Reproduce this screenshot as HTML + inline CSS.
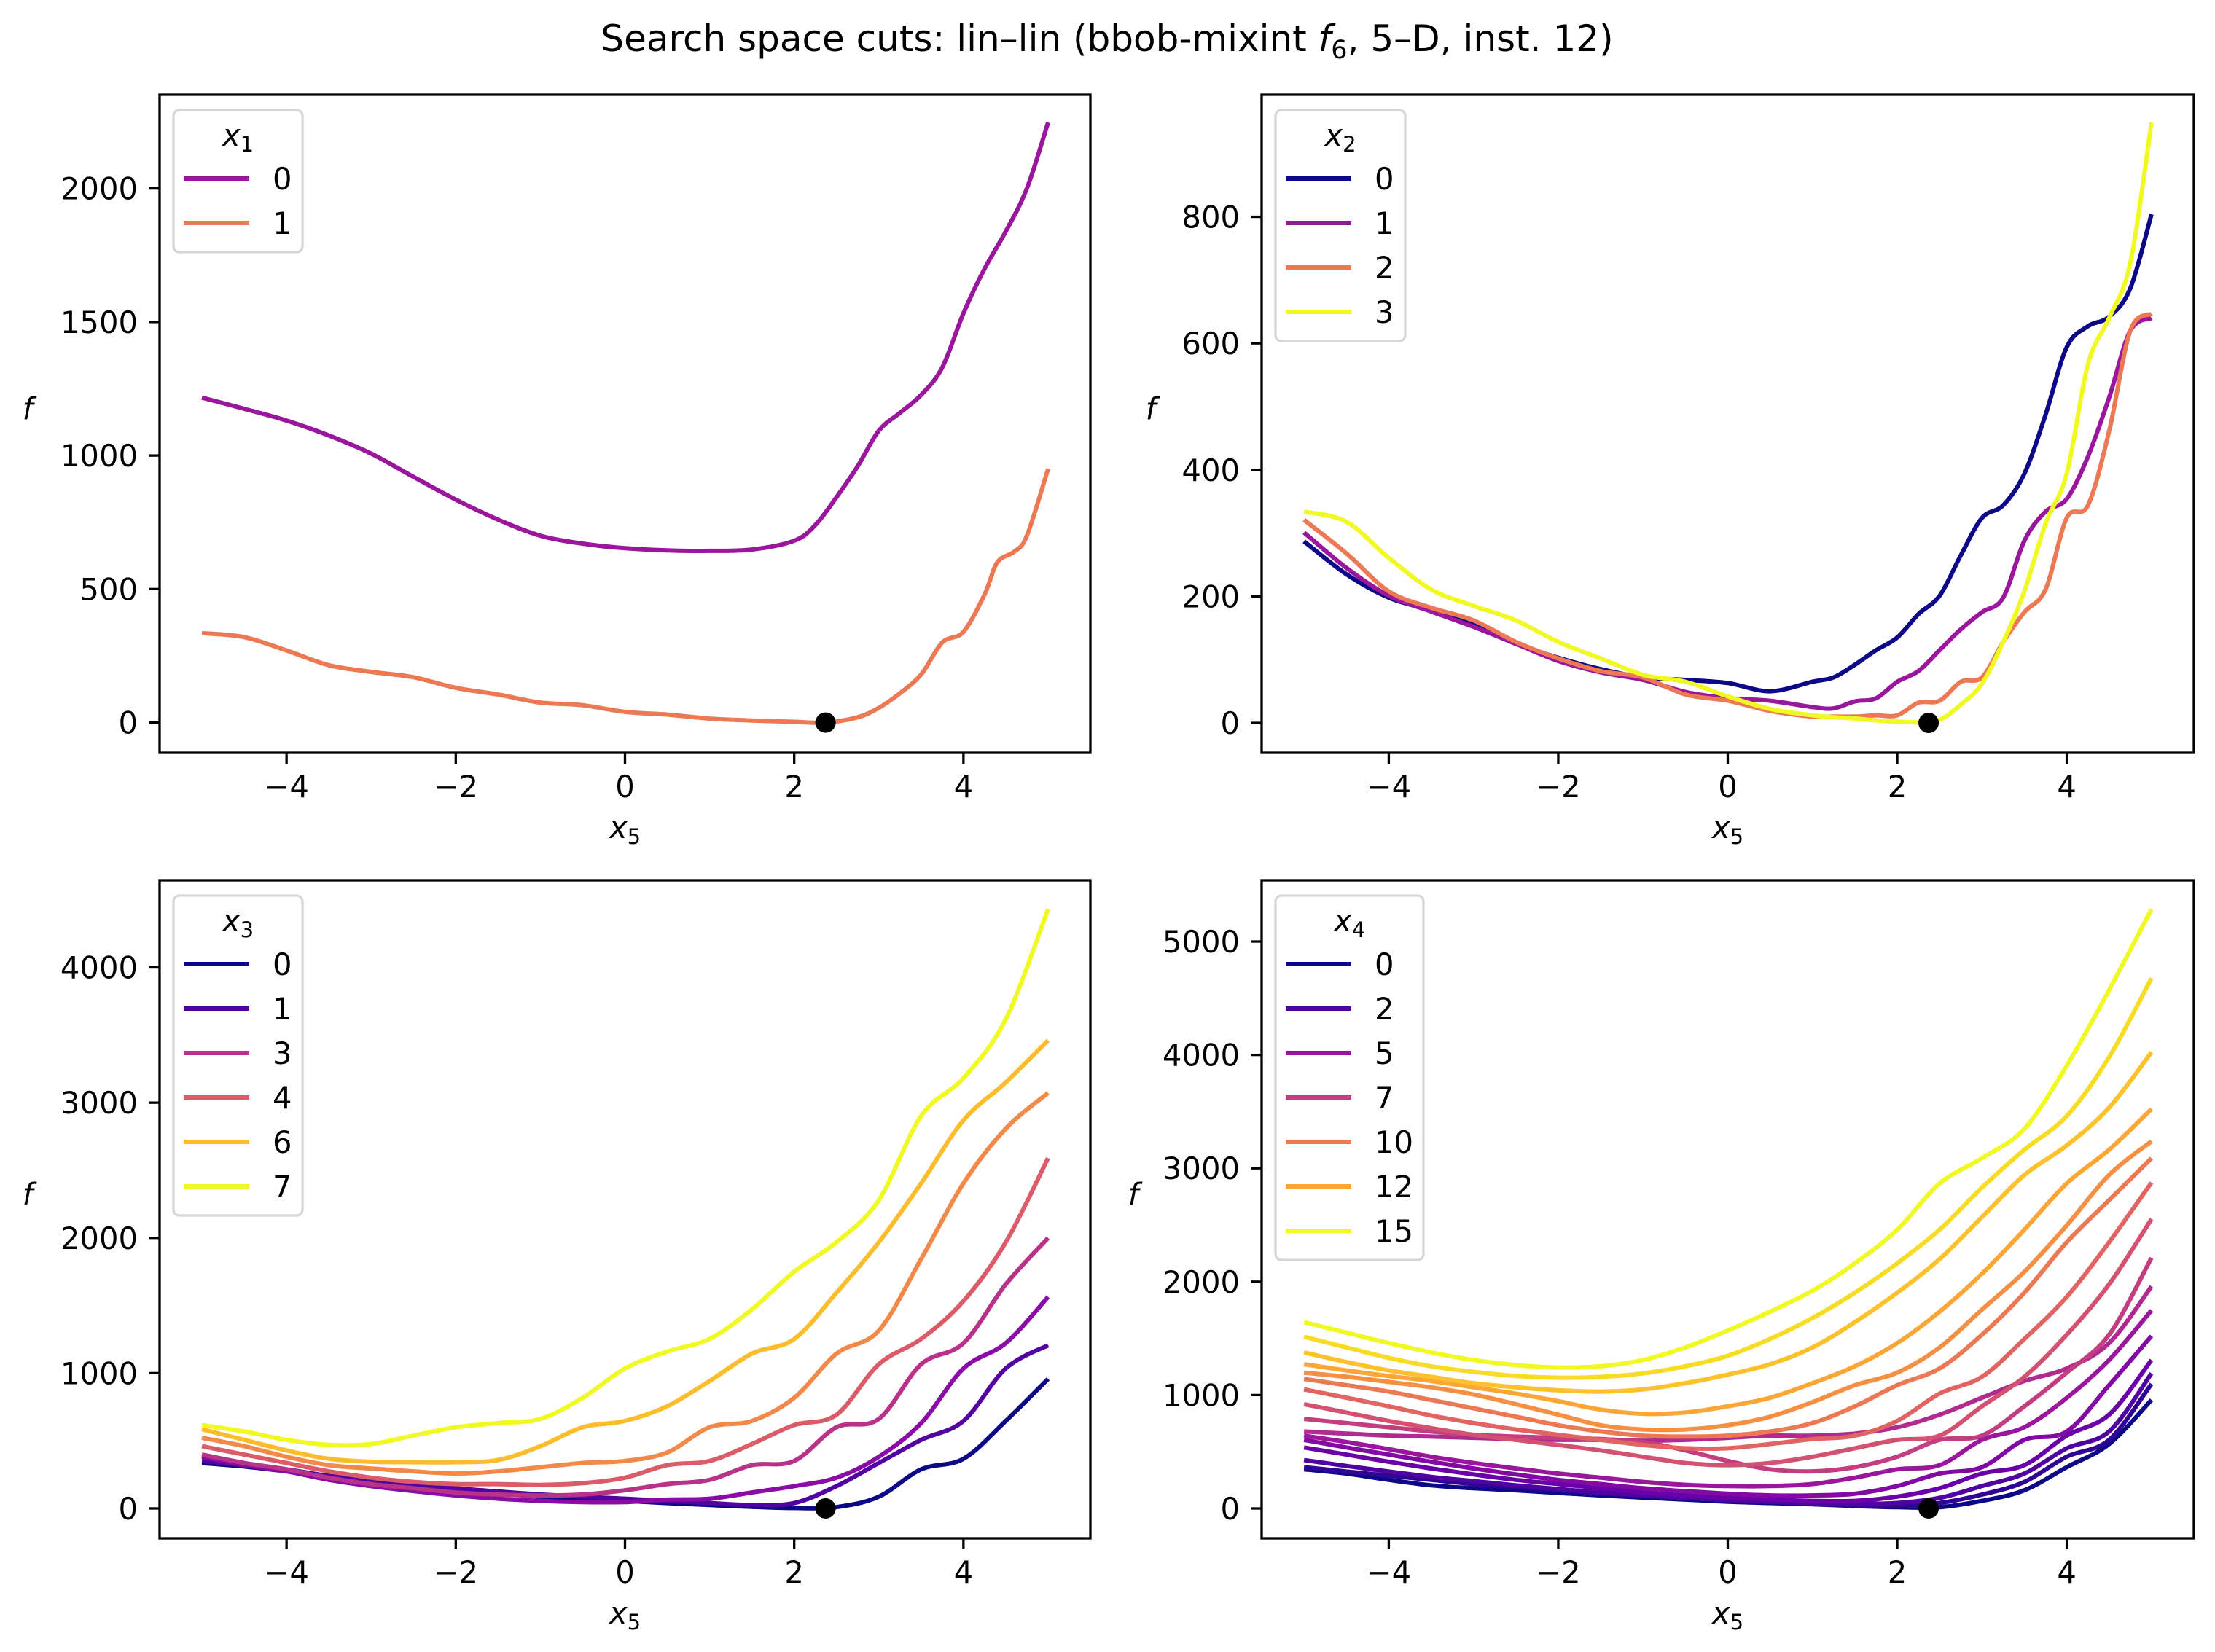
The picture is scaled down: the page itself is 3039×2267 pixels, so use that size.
<!DOCTYPE html>
<html><head><meta charset="utf-8"><title>Search space cuts</title>
<style>
html,body{margin:0;padding:0;background:#fff;}
svg{display:block;font-family:"DejaVu Sans","Liberation Sans",sans-serif;}
</style></head>
<body>
<svg id="fig" xmlns="http://www.w3.org/2000/svg" width="3039" height="2267" viewBox="0 0 3039 2267">
<rect x="0" y="0" width="3039" height="2267" fill="#fff"/>
<text x="1519" y="70" font-size="50" text-anchor="middle">Search space cuts: lin–lin (bbob-mixint <tspan font-style="italic">f</tspan><tspan font-size="35" dy="10">6</tspan><tspan dy="-10">, 5–D, inst. 12)</tspan></text>
</svg>
<script>
// ---------- data ----------
const xGrid = [-5,-4.5,-4,-3.5,-3,-2.5,-2,-1.5,-1,-0.5,0,0.5,1,1.5,2,2.5,3,3.5,4,4.5,5];

// Panel 1 (x1)
const p1Labels = ["0","1"];
const p1X0 = [-5,-4.5,-4,-3.5,-3,-2.5,-2,-1.5,-1,-0.5,0,0.5,1,1.5,2,2.25,2.5,2.75,3,3.25,3.5,3.75,4,4.25,4.5,4.75,5];
const p1Y0 = [1217,1175,1131,1075,1007,920,835,760,700,670,653,645,643,648,681,740,844,960,1093,1160,1227,1330,1533,1700,1839,2000,2247];
const p1X1 = [-5,-4.5,-4,-3.5,-3,-2.5,-2,-1.5,-1,-0.5,0,0.5,1,1.5,2,2.37,2.75,3,3.25,3.5,3.75,4,4.25,4.4,4.6,4.75,5];
const p1Y1 = [335,320,270,215,190,170,130,105,75,65,40,30,15,8,3,0,20,55,110,180,300,340,480,600,640,700,950];

// Panel 2 (x2)
const p2Labels = ["0","1","2","3"];
const p2X = [-5,-4.5,-4,-3.5,-3,-2.5,-2,-1.5,-1,-0.5,0,0.5,1,1.25,1.5,1.75,2,2.25,2.5,2.75,3,3.25,3.5,3.75,4,4.25,4.5,4.75,5];
const p2Y0 = [287,235,198,178,155,125,103,85,72,68,63,50,65,72,92,115,135,172,201,265,324,344,394,487,594,627,642,687,804];
const p2Y1 = [301,245,201,176,152,125,98,80,68,49,39,35,25,23,34,39,65,82,115,148,175,198,288,334,354,421,514,620,640];
const p2Y2 = [321,268,208,182,162,128,102,82,72,45,35,19,10,10,10,12,12,32,35,65,72,128,175,211,324,344,461,620,647];
const p2Y3 = [334,318,261,211,185,162,128,102,76,65,42,22,12,9,7,4,2,1,5,29,62,128,208,315,394,567,640,727,949];

// Panel 3 (x3), values on xGrid
const p3Labels = ["0","1","2","3","4","5","6","7"];
const p3Y0 = [336,310,274,235,196,165,134,110,87,70,56,40,25,12,3,10,87,289,367,647,958];
const p3Y1 = [351,320,289,240,211,180,149,125,103,87,72,56,40,25,40,165,336,507,647,1035,1206];
const p3Y2 = [382,320,274,211,165,128,96,72,56,47,47,65,72,118,165,227,382,631,1035,1222,1564];
const p3Y3 = [398,336,289,227,180,149,118,103,96,103,134,180,211,320,351,600,662,1066,1222,1657,2000];
const p3Y4 = [460,398,336,274,227,196,180,180,174,187,227,320,351,476,616,693,1066,1253,1533,1968,2590];
const p3Y5 = [522,460,382,320,295,274,258,274,305,336,351,414,600,647,818,1144,1315,1844,2404,2808,3072];
const p3Y6 = [585,507,429,367,345,342,342,358,460,600,647,756,942,1144,1253,1595,1968,2404,2870,3150,3461];
const p3Y7 = [616,569,507,470,476,538,600,631,662,818,1035,1160,1253,1471,1751,1968,2280,2902,3182,3617,4431];

// Panel 4 (x4), values on xGrid
const p4Y0 = [345,308,252,204,178,160,137,115,96,78,59,48,37,22,11,11,67,160,364,568,957];
const p4Y1 = [364,326,289,252,215,189,160,134,111,93,74,56,41,26,19,48,122,234,456,605,1098];
const p4Y2 = [427,375,326,278,241,204,171,141,115,93,74,59,48,41,48,93,197,308,530,679,1191];
const p4Y3 = [538,475,412,353,300,252,215,178,141,115,93,78,67,67,104,178,308,382,642,827,1309];
const p4Y4 = [605,538,475,412,353,300,252,215,178,152,130,115,115,130,197,308,364,605,679,1087,1521];
const p4Y5 = [642,586,523,456,401,353,308,271,234,208,197,197,215,271,345,382,605,716,975,1309,1747];
const p4Y6 = [679,660,642,634,623,612,605,605,597,605,623,642,642,660,716,827,976,1124,1235,1458,1958];
const p4Y7 = [790,753,716,679,649,634,623,612,586,512,419,345,327,364,456,605,642,901,1198,1532,2210];
const p4Y8 = [920,846,771,708,649,605,560,512,456,401,382,401,456,531,605,642,901,1161,1532,1977,2552];
const p4Y9 = [1050,976,901,820,753,697,649,605,560,531,531,568,612,642,772,1013,1161,1495,1866,2348,2874];
const p4Y10 = [1142,1087,1031,957,883,809,734,679,642,634,642,679,753,901,1087,1235,1532,1903,2348,2719,3089];
const p4Y11 = [1198,1161,1116,1068,1005,920,827,734,697,697,734,809,938,1087,1198,1420,1754,2088,2496,2941,3238];
const p4Y12 = [1272,1217,1168,1124,1068,1013,946,872,835,846,901,976,1105,1254,1458,1736,2070,2459,2867,3164,3523];
const p4Y13 = [1376,1291,1217,1161,1105,1068,1042,1031,1050,1105,1180,1272,1420,1643,1903,2199,2570,2941,3201,3535,4024];
const p4Y14 = [1514,1420,1328,1254,1205,1168,1153,1160,1191,1254,1346,1495,1680,1903,2162,2459,2830,3164,3461,3980,4677];
const p4Y15 = [1643,1550,1458,1376,1309,1265,1243,1254,1309,1420,1569,1736,1921,2162,2459,2867,3089,3349,3905,4573,5285];

const xTicks = [-4,-2,0,2,4];
const p1Ticks = [0,500,1000,1500,2000];
const p2Ticks = [0,200,400,600,800];
const p3Ticks = [0,1000,2000,3000,4000];
const p4Ticks = [0,1000,2000,3000,4000,5000];
const p3LegendIdx = [0,1,3,4,6,7];
const p4LegendIdx = [0,2,5,7,10,12,15];
const optX = [2.37];
const optY = [0];

// ---------- helpers ----------
const NS = "http://www.w3.org/2000/svg";
const svg = document.getElementById("fig");
function el(tag, attrs, parent){
  const e = document.createElementNS(NS, tag);
  for (const k in attrs) e.setAttribute(k, attrs[k]);
  (parent||svg).appendChild(e);
  return e;
}
const plasmaStops = ["#0d0887","#41049d","#6a00a8","#8f0da4","#b12a90","#cc4778","#e16462","#f2844b","#fca636","#fcce25","#f0f921"];
function hex2rgb(h){return [parseInt(h.slice(1,3),16),parseInt(h.slice(3,5),16),parseInt(h.slice(5,7),16)];}
function plasma(t){
  t=Math.max(0,Math.min(1,t));
  const s=t*10, i=Math.min(9,Math.floor(s)), f=s-i;
  const a=hex2rgb(plasmaStops[i]), b=hex2rgb(plasmaStops[i+1]);
  return "rgb("+a.map((v,k)=>Math.round(v+(b[k]-v)*f)).join(",")+")";
}
function smoothPath(pts){
  let d="M"+pts[0][0].toFixed(1)+","+pts[0][1].toFixed(1);
  for(let i=0;i<pts.length-1;i++){
    const p0=pts[i-1]||pts[i], p1=pts[i], p2=pts[i+1], p3=pts[i+2]||pts[i+1];
    const c1x=p1[0]+(p2[0]-p0[0])/6, c1y=p1[1]+(p2[1]-p0[1])/6;
    const c2x=p2[0]-(p3[0]-p1[0])/6, c2y=p2[1]-(p3[1]-p1[1])/6;
    d+=" C"+c1x.toFixed(1)+","+c1y.toFixed(1)+" "+c2x.toFixed(1)+","+c2y.toFixed(1)+" "+p2[0].toFixed(1)+","+p2[1].toFixed(1);
  }
  return d;
}
function fmt(v){return v<0?"\u2212"+Math.abs(v):String(v);}

function drawPanel(cfg){
  const g = el("g",{});
  
  
  const xs = v => cfg.left + (v - (-5.5)) / 11 * (cfg.right - cfg.left);
  const ys = v => cfg.bottom - (v - cfg.ymin) / (cfg.ymax - cfg.ymin) * (cfg.bottom - cfg.top);
  // series
  cfg.series.forEach((s, i) => {
    const pts = s.x.map((xv, k) => [xs(xv), ys(s.y[k])]);
    const p = el("path",{d:smoothPath(pts), fill:"none", stroke:s.color, "stroke-width":"6", "stroke-linejoin":"round"}, g);
    
    
  });
  // optimum marker
  const m = el("circle",{cx:xs(optX[0]), cy:ys(optY[0]), r:14, fill:"#000"}, g);
  
  
  // frame
  const fr = el("rect",{x:cfg.left, y:cfg.top, width:cfg.right-cfg.left, height:cfg.bottom-cfg.top, fill:"none", stroke:"#000", "stroke-width":"3.3"}, g);
  
  
  // x ticks
  xTicks.forEach(t => {
    const x = xs(t);
    const tk = el("line",{x1:x, y1:cfg.bottom, x2:x, y2:cfg.bottom+15, stroke:"#000", "stroke-width":"3.3"}, g);
    
    
    const tl = el("text",{x:x, y:cfg.bottom+61, "font-size":"41.7", "text-anchor":"middle"}, g);
    tl.textContent = fmt(t);
    
    
  });
  // y ticks
  cfg.yTicks.forEach(t => {
    const y = ys(t);
    const tk = el("line",{x1:cfg.left-15, y1:y, x2:cfg.left, y2:y, stroke:"#000", "stroke-width":"3.3"}, g);
    
    
    const tl = el("text",{x:cfg.left-30, y:y+15, "font-size":"41.7", "text-anchor":"end"}, g);
    tl.textContent = fmt(t);
    
    
  });
  // axis labels
  const xl = el("text",{x:(cfg.left+cfg.right)/2, y:cfg.bottom+117, "font-size":"41.7", "text-anchor":"middle"}, g);
  xl.innerHTML = '<tspan font-style="italic">x</tspan><tspan font-size="29" dy="8">5</tspan>';
  
  
  const yl = el("text",{x:cfg.ylabelX, y:(cfg.top+cfg.bottom)/2 - 6, "font-size":"41.7", "font-style":"italic", "text-anchor":"middle"}, g);
  yl.textContent = "f";
  
  
  // legend
  const lx = cfg.left + 19, ly = cfg.top + 21;
  const entries = cfg.legendIdx.map(i => cfg.series[i]);
  const lh = 94 + 61*(entries.length-1) + 40;
  const lg = el("g",{}, g);
  
  
  el("rect",{x:lx, y:ly, width:cfg.legendW, height:lh, rx:8, fill:"#fff", "fill-opacity":"0.8", stroke:"#d6d6d6", "stroke-width":"3.3"}, lg);
  const lt = el("text",{x:lx+cfg.legendW/2, y:ly+49, "font-size":"41.7", "text-anchor":"middle"}, lg);
  lt.innerHTML = '<tspan font-style="italic">x</tspan><tspan font-size="29" dy="8">' + cfg.varIdx + '</tspan>';
  
  
  entries.forEach((s, k) => {
    const y = ly + 94 + 61*k;
    const ln = el("line",{x1:lx+14, y1:y, x2:lx+104, y2:y, stroke:s.color, "stroke-width":"6"}, lg);
    
    
    const tx = el("text",{x:lx+136, y:y+15, "font-size":"41.7"}, lg);
    tx.textContent = s.label;
    
    
  });
}

// ---------- panels ----------
drawPanel({name:"panel-x1", varName:"x1", varIdx:"1", left:219, right:1496, top:130, bottom:1033, ymin:-113, ymax:2351, yTicks:p1Ticks, ylabelX:38, legendW:177,
  series:[{x:p1X0,y:p1Y0,label:p1Labels[0],color:plasma(1/3)},{x:p1X1,y:p1Y1,label:p1Labels[1],color:plasma(2/3)}], legendIdx:[0,1]});

const p2Ys=[p2Y0,p2Y1,p2Y2,p2Y3];
drawPanel({name:"panel-x2", varName:"x2", varIdx:"2", left:1731, right:3010, top:130, bottom:1033, ymin:-47.2, ymax:993, yTicks:p2Ticks, ylabelX:1579, legendW:178,
  series:p2Ys.map((y,i)=>({x:p2X,y:y,label:p2Labels[i],color:plasma(i/3)})), legendIdx:[0,1,2,3]});

const p3Ys=[p3Y0,p3Y1,p3Y2,p3Y3,p3Y4,p3Y5,p3Y6,p3Y7];
drawPanel({name:"panel-x3", varName:"x3", varIdx:"3", left:219, right:1496, top:1208, bottom:2111, ymin:-221, ymax:4644, yTicks:p3Ticks, ylabelX:38, legendW:177,
  series:p3Ys.map((y,i)=>({x:xGrid,y:y,label:p3Labels[i],color:plasma(i/7)})), legendIdx:p3LegendIdx});

const p4Ys=[p4Y0,p4Y1,p4Y2,p4Y3,p4Y4,p4Y5,p4Y6,p4Y7,p4Y8,p4Y9,p4Y10,p4Y11,p4Y12,p4Y13,p4Y14,p4Y15];
drawPanel({name:"panel-x4", varName:"x4", varIdx:"4", left:1731, right:3010, top:1208, bottom:2111, ymin:-263.5, ymax:5540, yTicks:p4Ticks, ylabelX:1555, legendW:203,
  series:p4Ys.map((y,i)=>({x:xGrid,y:y,label:String(i),color:plasma(i/15)})), legendIdx:p4LegendIdx});
</script>
</body></html>
